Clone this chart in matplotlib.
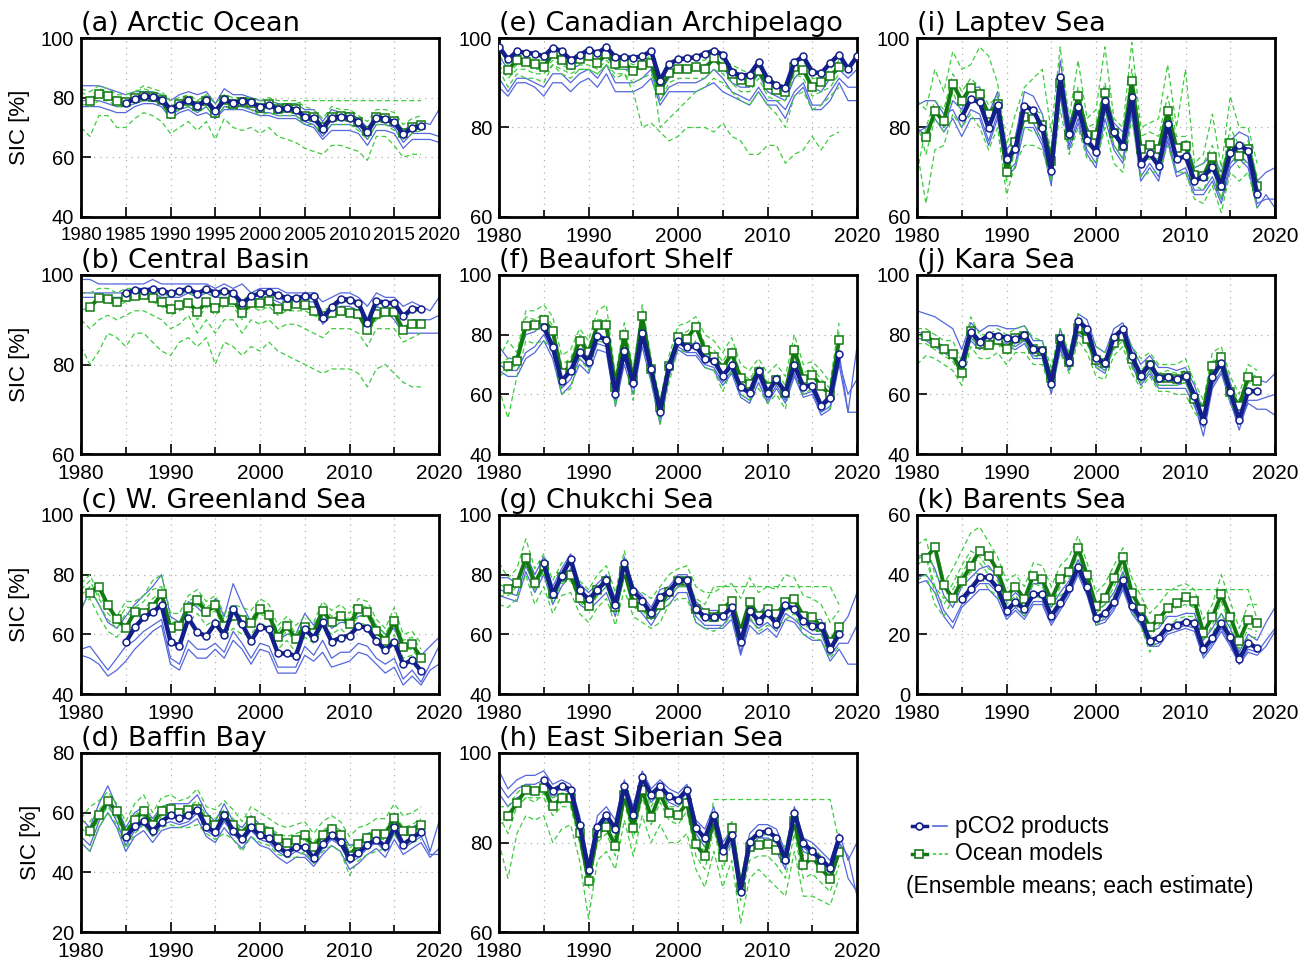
import numpy as np
import matplotlib
matplotlib.use('Agg')
import matplotlib.pyplot as plt

years = np.arange(1980, 2021)

# ---------------- (a) Arctic Ocean ----------------
a_blue_mean = [78.1, 79.7, 80.4, 80.2, 79.3, 76.2, 77.7, 79.1, 77.1, 79.1,
               75.4, 79.4, 78.2, 78.8, 78.5, 76.8, 77.7, 76.1, 76.4, 76.0,
               73.5, 73.2, 69.6, 73.3, 73.5, 73.3, 71.7, 68.4, 73.3, 73.0,
               71.7, 67.8, 69.8, 70.4]
a_green_mean = [78.8, 81.2, 80.4, 78.9, 78.5, 79.9, 80.6, 80.3, 79.2,
                74.5, 77.8, 79.0, 77.3, 79.0, 75.0, 79.2, 78.0, 78.6, 78.3,
                76.6, 77.9, 76.3, 76.6, 76.2, 73.8, 73.5, 70.2, 73.6, 73.8,
                73.5, 72.0, 68.8, 73.6, 73.3, 72.2, 68.2, 70.2, 70.8]
a_blue_members = [
    [84, 84, 84, 83, 82, 81, 82, 82, 82, 81, 79, 81, 82, 81, 82, 78, 83, 81, 81, 80,
     79, 79, 78, 78, 78, 76, 76, 72, 76, 75, 75, 73, 70, 74, 74, 73, 69, 71, 72, 71, 76],
    [77, 77, 77, 76, 75, 75, 77, 78, 78, 77, 73, 75, 76, 74, 75, 73, 76, 76, 76, 75,
     74, 74, 73, 73, 73, 71, 70, 66, 69, 69, 69, 68, 64, 69, 69, 68, 63, 66, 66, 66, 65],
    [79, 79, 79, 78, 77, 77, 78, 79, 79, 78, 74, 76, 77, 75, 77, 73, 77, 77, 77, 76,
     75, 75, 74, 74, 74, 72, 71, 67, 71, 71, 71, 70, 66, 71, 71, 70, 65, 68, 68, 68, 67]]
a_green_members = [
    [70, 67, 74, 74, 70, 70, 73, 75, 74, 72, 68, 70, 72, 69, 72, 66, 73, 70, 69, 70,
     68, 70, 67, 66, 65, 63, 62, 61, 64, 64, 63, 62, 59, 67, 67, 64, 60, 61, 61],
    [82, 80, 83, 82, 80, 80, 82, 83, 82, 81, 77, 79, 80, 78, 80, 76, 80, 79, 79, 79,
     78, 79, 78, 78, 78, 79, 79, 79, 79, 79, 79, 79, 79, 79, 79, 79, 79, 79, 79],
    [83, 82, 84, 83, 81, 81, 82, 84, 83, 82, 79, 80, 81, 79, 81, 78, 81, 80, 80, 80,
     79, 80, 79, 79, 79, 77, 76, 73, 77, 76, 76, 74, 72, 76, 76, 75, 71, 73, 74],
    [78, 77, 79, 79, 77, 77, 78, 79, 79, 78, 73, 76, 77, 75, 77, 73, 77, 76, 77, 76,
     74, 75, 74, 74, 74, 71, 71, 68, 71, 71, 71, 69, 66, 71, 71, 69, 66, 68, 69]]

# ---------------- (b) Central Basin ----------------
b_blue_mean = [96.0, 96.6, 96.5, 96.8, 96.5, 95.9, 96.4, 96.9, 95.8, 96.9,
               96.0, 96.4, 95.9, 93.7, 95.2, 95.9, 96.2, 95.5, 94.8, 94.8,
               95.2, 95.2, 90.3, 92.8, 94.6, 94.5, 93.7, 89.2, 94.2, 93.8,
               93.7, 90.8, 92.5, 92.3]
b_green_mean = [92.9, 94.8, 94.6, 94.0, 95.0, 95.3, 95.5, 94.8, 93.9,
                92.3, 93.4, 93.8, 91.8, 93.9, 92.6, 93.9, 94.4, 91.4, 93.8,
                93.7, 94.3, 92.4, 93.1, 93.5, 93.4, 92.0, 90.8, 91.4, 92.0,
                91.6, 91.3, 87.6, 91.3, 91.7, 91.7, 87.7, 89.1, 89.1]
b_blue_members = [
    [99, 99, 98, 98, 98, 98, 98, 98, 99, 98, 98, 98, 98, 98, 98, 97, 98, 97, 98, 96,
     97, 97, 97, 96, 96, 96, 96, 94, 95, 96, 96, 95, 93, 96, 95, 95, 93, 94, 93, 92, 95],
    [95, 95, 95, 95, 95, 95, 96, 96, 96, 95, 95, 95, 96, 95, 96, 95, 95, 95, 92, 94,
     95, 95, 94, 93, 93, 94, 94, 89, 91, 93, 93, 92, 88, 93, 92, 92, 88, 90, 90, 90, 91],
    [96, 96, 96, 96, 96, 96, 97, 97, 97, 96, 96, 96, 97, 96, 97, 96, 96, 96, 93, 95,
     96, 96, 95, 94, 94, 95, 95, 90, 92, 94, 94, 93, 88, 93, 92, 90, 87, 87, 87, 87, 87]]
b_green_members = [
    [84, 80, 83, 87, 86, 84, 87, 87, 85, 83, 82, 85, 86, 84, 86, 80, 85, 84, 82, 84,
     83, 85, 83, 82, 81, 80, 79, 78, 79, 79, 79, 78, 75, 79, 80, 78, 76, 75, 75],
    [92, 93, 95, 94, 93, 94, 95, 95, 94, 93, 91, 92, 93, 90, 93, 91, 93, 93, 90, 93,
     92, 93, 91, 92, 92, 92, 91, 90, 91, 91, 91, 91, 87, 90, 91, 91, 87, 89, 89],
    [96, 96, 97, 97, 96, 97, 97, 97, 96, 96, 95, 96, 96, 95, 96, 95, 96, 96, 94, 96,
     96, 96, 95, 95, 95, 95, 94, 92, 93, 94, 94, 93, 89, 93, 94, 94, 90, 92, 92],
    [90, 88, 90, 91, 90, 91, 92, 92, 91, 90, 88, 89, 91, 87, 90, 87, 90, 90, 87, 90,
     89, 90, 88, 89, 89, 88, 87, 86, 88, 88, 88, 87, 84, 88, 88, 88, 85, 86, 87]]

# ---------------- (c) W. Greenland Sea ----------------
c_blue_mean = [57.3, 62.3, 65.7, 67.4, 69.8, 57.5, 56.2, 65.4, 60.7, 59.4,
               63.7, 59.7, 68.5, 63.4, 57.8, 62.6, 61.7, 53.6, 53.6, 52.8,
               61.7, 58.9, 64.0, 57.5, 58.9, 59.6, 62.8, 62.2, 57.8, 54.7,
               57.5, 49.9, 51.4, 47.7]
c_green_mean = [74.0, 76.0, 69.8, 65.0, 62.2, 67.4, 67.0, 69.3, 73.6,
                62.0, 62.8, 68.9, 71.5, 67.4, 69.8, 62.9, 66.1, 64.7, 63.8,
                68.4, 66.5, 59.2, 62.9, 58.4, 62.6, 60.6, 67.9, 64.2, 66.3,
                63.4, 68.4, 67.4, 61.1, 57.9, 64.6, 55.6, 56.6, 52.2]
c_blue_members = [
    [68, 75, 70, 64, 62, 66, 70, 73, 76, 80, 66, 64, 71, 69, 66, 72, 66, 77, 70, 64,
     68, 67, 58, 60, 60, 67, 63, 68, 62, 64, 64, 66, 67, 63, 60, 62, 55, 57, 53, 56, 59],
    [55, 56, 52, 48, 52, 56, 58, 61, 63, 65, 52, 50, 58, 55, 55, 57, 54, 61, 57, 52,
     57, 56, 49, 49, 49, 56, 53, 58, 52, 54, 54, 57, 56, 52, 50, 52, 45, 48, 44, 50, 56],
    [53, 52, 50, 46, 48, 51, 55, 58, 61, 63, 50, 48, 55, 52, 52, 55, 52, 58, 55, 50,
     55, 54, 47, 47, 47, 53, 51, 54, 49, 50, 51, 54, 53, 50, 47, 49, 43, 46, 43, 48, 50]]
c_green_members = [
    [77, 80, 73, 69, 66, 71, 71, 73, 78, 80, 67, 67, 73, 75, 71, 73, 67, 70, 69, 68,
     72, 70, 63, 66, 63, 66, 64, 71, 68, 70, 67, 72, 71, 65, 62, 69, 60, 61, 57],
    [70, 72, 66, 61, 59, 63, 63, 65, 69, 70, 58, 58, 64, 67, 63, 65, 59, 62, 60, 60,
     64, 62, 55, 58, 54, 59, 57, 63, 60, 62, 59, 64, 63, 57, 54, 60, 52, 53, 48],
    [73, 76, 70, 65, 62, 67, 66, 68, 72, 74, 61, 62, 67, 70, 66, 68, 62, 65, 63, 62,
     67, 65, 58, 61, 57, 61, 59, 66, 63, 65, 62, 66, 66, 60, 57, 63, 55, 55, 51],
    [75, 78, 72, 67, 64, 69, 69, 71, 75, 76, 64, 64, 71, 73, 69, 71, 65, 68, 66, 65,
     70, 68, 61, 65, 60, 64, 62, 69, 66, 68, 65, 70, 69, 63, 60, 66, 58, 59, 55]]

# ---------------- (d) Baffin Bay ----------------
d_blue_mean = [51.7, 55.4, 57.1, 53.7, 56.9, 59.3, 58.2, 59.1, 61.0, 55.2,
               53.4, 59.1, 54.0, 51.2, 55.1, 52.4, 51.5, 48.5, 46.5, 48.5,
               48.4, 44.8, 49.5, 52.4, 50.2, 44.8, 46.5, 49.3, 51.0, 48.7,
               55.1, 49.3, 51.5, 53.5]
d_green_mean = [54.0, 59.1, 63.8, 60.4, 52.8, 57.7, 60.4, 56.0, 60.7,
                61.3, 59.9, 61.0, 61.3, 57.7, 56.0, 58.8, 56.0, 52.8, 57.1,
                54.9, 53.5, 51.3, 49.8, 50.8, 52.4, 48.4, 52.6, 54.5, 52.4,
                45.4, 49.5, 51.5, 52.8, 52.8, 58.2, 53.7, 54.0, 56.0]
d_blue_members = [
    [58, 55, 63, 69, 62, 55, 60, 62, 58, 62, 63, 63, 63, 66, 60, 57, 63, 57, 55, 59,
     56, 55, 52, 50, 52, 52, 48, 53, 56, 54, 49, 50, 53, 54, 52, 58, 53, 55, 57, 47, 57],
    [50, 47, 55, 60, 55, 47, 52, 54, 50, 54, 55, 55, 56, 58, 52, 50, 55, 51, 48, 52,
     49, 48, 45, 43, 45, 45, 42, 46, 49, 47, 41, 43, 46, 48, 45, 51, 46, 48, 50, 45, 48],
    [52, 49, 57, 63, 57, 49, 54, 56, 52, 56, 57, 56, 57, 60, 54, 52, 57, 53, 50, 54,
     51, 50, 47, 45, 47, 46, 43, 48, 51, 49, 43, 45, 48, 50, 47, 53, 48, 50, 52, 46, 46]]
d_green_members = [
    [58, 62, 64, 67, 63, 57, 63, 66, 60, 65, 66, 64, 65, 68, 62, 61, 64, 61, 57, 62,
     60, 58, 56, 55, 56, 57, 53, 57, 59, 57, 52, 55, 56, 58, 58, 63, 59, 60, 62],
    [50, 47, 55, 60, 56, 48, 53, 56, 52, 55, 56, 55, 55, 56, 53, 51, 53, 51, 47, 52,
     50, 49, 46, 45, 45, 47, 43, 47, 49, 47, 39, 44, 46, 47, 48, 53, 49, 50, 51],
    [55, 52, 58, 62, 58, 51, 56, 59, 54, 59, 60, 58, 59, 60, 56, 55, 57, 55, 51, 55,
     53, 52, 50, 48, 49, 51, 47, 51, 53, 51, 44, 48, 50, 51, 51, 56, 52, 53, 55],
    [57, 57, 61, 64, 61, 54, 59, 62, 57, 62, 63, 61, 62, 64, 59, 58, 61, 58, 54, 58,
     56, 55, 53, 52, 53, 54, 50, 54, 56, 54, 48, 51, 53, 54, 54, 60, 55, 56, 58]]

# ---------------- (e) Canadian Archipelago ----------------
e_blue_mean = [98.1, 95.2, 97.0, 96.7, 96.5, 95.9, 97.8, 97.1, 95.1, 96.1,
               97.4, 96.6, 98.0, 95.7, 95.7, 95.6, 95.9, 97.1, 90.5, 94.2,
               95.2, 95.5, 95.7, 96.5, 97.2, 96.3, 92.5, 91.6, 91.8, 94.6,
               90.9, 89.4, 88.9, 94.6, 95.9, 92.4, 92.1, 94.4, 96.3, 93.1, 95.9]
e_green_mean = [92.9, 95.0, 94.6, 94.1, 93.5, 96.5, 95.1, 93.9, 95.4,
                95.9, 94.5, 96.5, 94.2, 94.4, 92.7, 93.9, 94.4, 88.3, 92.1,
                93.0, 93.1, 93.5, 93.1, 95.5, 93.5, 92.0, 90.7, 90.1, 92.7,
                89.4, 88.3, 87.9, 93.5, 92.9, 89.0, 90.1, 91.4, 93.6]
e_blue_members = [
    [89, 87, 90, 90, 89, 87, 90, 90, 88, 90, 91, 89, 92, 88, 88, 88, 89, 91, 85, 88,
     88, 88, 88, 89, 90, 88, 87, 86, 85, 88, 85, 85, 82, 87, 89, 84, 84, 86, 90, 86, 86],
    [91, 88, 91, 91, 90, 89, 92, 92, 90, 92, 93, 91, 94, 90, 90, 90, 91, 93, 86, 89,
     90, 90, 90, 91, 93, 91, 88, 87, 86, 89, 86, 86, 84, 88, 90, 85, 85, 88, 91, 89, 89],
    [96, 93, 95, 95, 94, 93, 96, 95, 93, 94, 96, 94, 96, 93, 93, 93, 94, 95, 88, 91,
     93, 93, 93, 94, 95, 94, 90, 89, 89, 92, 88, 87, 86, 91, 93, 89, 88, 91, 93, 91, 93]]
e_green_members = [
    [94, 91, 93, 93, 92, 92, 94, 93, 92, 93, 93, 92, 94, 92, 92, 88, 80, 81, 79, 77,
     78, 80, 80, 80, 79, 81, 78, 77, 74, 74, 76, 76, 72, 74, 75, 78, 75, 78, 79],
    [95, 92, 94, 94, 93, 93, 95, 94, 93, 94, 94, 93, 95, 93, 93, 92, 93, 94, 80, 82,
     84, 86, 88, 89, 91, 90, 88, 86, 85, 88, 85, 83, 80, 87, 88, 84, 85, 87, 89],
    [96, 94, 96, 96, 95, 95, 97, 96, 95, 96, 97, 96, 97, 95, 95, 94, 95, 96, 90, 94,
     95, 95, 95, 95, 97, 95, 94, 93, 92, 94, 91, 90, 89, 95, 95, 91, 91, 93, 95],
    [93, 89, 92, 91, 91, 90, 94, 92, 91, 93, 93, 92, 94, 91, 92, 90, 91, 92, 86, 90,
     91, 91, 91, 91, 93, 92, 90, 88, 88, 91, 87, 86, 86, 92, 91, 87, 88, 89, 92]]

# ---------------- (f) Beaufort Shelf ----------------
f_blue_mean = [82.5, 76.0, 64.5, 67.9, 74.3, 71.0, 79.6, 78.2, 60.0, 74.5,
               63.7, 80.7, 68.4, 54.0, 69.5, 77.9, 75.8, 76.2, 71.8, 71.3,
               66.3, 69.8, 62.3, 60.6, 67.8, 60.6, 65.0, 60.6, 69.8, 62.6,
               62.9, 56.1, 58.9, 73.5]
f_green_mean = [69.6, 71.3, 82.9, 83.2, 84.9, 81.2, 67.0, 69.5, 78.0,
                74.3, 83.1, 83.1, 62.6, 79.8, 64.8, 86.3, 68.4, 55.6, 69.5,
                79.1, 78.7, 82.7, 74.9, 72.6, 68.9, 73.7, 65.4, 63.5, 67.6,
                62.6, 64.8, 60.6, 74.9, 65.1, 66.5, 62.9, 59.8, 78.2]
f_blue_members = [
    [76, 72, 72, 80, 81, 84, 77, 65, 68, 75, 72, 80, 79, 61, 75, 64, 81, 69, 55, 70,
     79, 77, 77, 73, 72, 67, 71, 63, 61, 69, 61, 66, 61, 71, 63, 64, 57, 60, 74, 54, 76],
    [70, 68, 68, 74, 76, 80, 74, 62, 65, 72, 69, 77, 76, 58, 72, 62, 78, 66, 52, 67,
     76, 74, 74, 70, 69, 64, 68, 60, 58, 66, 58, 63, 58, 67, 60, 61, 54, 56, 71, 60, 65],
    [68, 66, 66, 72, 74, 78, 72, 60, 63, 70, 67, 75, 74, 56, 70, 60, 76, 64, 50, 66,
     75, 73, 73, 69, 68, 63, 67, 59, 57, 64, 57, 62, 57, 66, 59, 60, 53, 55, 70, 54, 54]]
f_green_members = [
    [72, 78, 74, 88, 88, 90, 86, 73, 75, 82, 78, 88, 90, 66, 84, 68, 90, 72, 58, 73,
     83, 84, 86, 80, 78, 74, 79, 70, 68, 72, 67, 70, 66, 80, 70, 71, 68, 64, 84],
    [62, 52, 66, 78, 77, 78, 75, 60, 62, 72, 68, 78, 77, 56, 75, 58, 82, 64, 50, 64,
     75, 74, 78, 69, 68, 61, 68, 60, 58, 62, 57, 60, 55, 70, 60, 62, 57, 55, 72],
    [66, 68, 70, 82, 82, 84, 80, 66, 68, 77, 73, 82, 82, 61, 79, 63, 85, 67, 54, 68,
     78, 78, 82, 74, 72, 68, 73, 64, 62, 67, 62, 64, 60, 74, 64, 66, 62, 59, 78],
    [70, 72, 73, 86, 85, 87, 83, 70, 72, 80, 75, 85, 85, 64, 81, 66, 88, 70, 56, 71,
     80, 81, 84, 77, 75, 71, 76, 67, 65, 70, 64, 67, 63, 77, 67, 69, 65, 62, 81]]

# ---------------- (g) Chukchi Sea ----------------
g_blue_mean = [83.8, 73.5, 79.7, 85.1, 74.9, 71.7, 74.9, 78.2, 69.8, 84.0,
               74.6, 71.3, 67.0, 72.6, 74.3, 78.2, 78.2, 68.4, 65.9, 65.9,
               66.1, 69.1, 57.5, 67.9, 64.6, 67.3, 63.4, 69.8, 68.5, 64.5,
               62.8, 62.8, 55.0, 60.0]
g_green_mean = [75.2, 77.1, 85.5, 77.3, 82.9, 73.5, 79.1, 79.8, 72.3,
                69.5, 74.9, 78.0, 69.1, 81.3, 70.4, 69.3, 66.8, 69.8, 74.3,
                78.0, 78.0, 68.5, 67.3, 65.9, 68.5, 71.3, 60.9, 71.0, 66.1,
                68.5, 66.7, 70.7, 71.7, 66.1, 65.7, 62.6, 57.3, 62.6]
g_blue_members = [
    [79, 79, 77, 87, 80, 86, 76, 82, 87, 77, 74, 77, 80, 72, 86, 76, 73, 69, 75, 76,
     80, 80, 71, 68, 68, 68, 72, 60, 70, 67, 70, 66, 72, 71, 67, 65, 65, 58, 62, 66, 74],
    [75, 74, 73, 83, 76, 82, 72, 78, 82, 72, 70, 73, 76, 68, 82, 72, 69, 65, 70, 72,
     76, 76, 66, 63, 63, 63, 67, 54, 65, 62, 64, 61, 67, 65, 62, 60, 60, 53, 57, 57, 63],
    [73, 72, 71, 81, 74, 80, 70, 76, 80, 70, 68, 71, 74, 66, 80, 70, 67, 63, 68, 70,
     74, 74, 64, 62, 62, 62, 65, 53, 63, 60, 62, 59, 65, 64, 60, 58, 58, 51, 55, 50, 50]]
g_green_members = [
    [84, 79, 82, 92, 82, 87, 78, 84, 84, 78, 75, 80, 83, 74, 88, 75, 74, 72, 76, 80,
     82, 83, 76, 74, 74, 76, 77, 72, 79, 74, 76, 75, 80, 79, 73, 72, 70, 64, 68],
    [77, 75, 78, 86, 77, 83, 73, 79, 80, 73, 70, 75, 78, 69, 81, 71, 70, 67, 70, 75,
     78, 78, 72, 70, 76, 76, 76, 76, 76, 76, 76, 76, 76, 76, 76, 76, 76, 76, 70],
    [70, 69, 72, 80, 70, 76, 67, 73, 74, 67, 64, 69, 72, 63, 75, 66, 64, 62, 64, 70,
     72, 72, 64, 62, 61, 63, 66, 56, 66, 61, 63, 62, 65, 67, 60, 59, 58, 52, 56],
    [73, 73, 76, 84, 75, 81, 71, 77, 78, 71, 68, 73, 76, 67, 80, 69, 68, 65, 68, 73,
     76, 76, 67, 65, 64, 66, 69, 59, 69, 64, 66, 64, 68, 69, 63, 62, 60, 55, 59]]

# ---------------- (h) East Siberian Sea ----------------
h_blue_mean = [94.0, 91.6, 92.7, 91.8, 84.0, 73.9, 83.4, 86.1, 83.0, 92.6,
               86.1, 94.6, 90.7, 92.6, 90.3, 89.6, 91.8, 83.2, 81.0, 86.2,
               78.1, 81.7, 69.0, 80.2, 82.1, 82.5, 81.1, 76.2, 86.7, 79.9,
               78.0, 76.2, 74.3, 81.0]
h_green_mean = [85.9, 88.8, 91.8, 91.4, 92.2, 88.1, 90.0, 90.0, 82.1,
                71.5, 82.1, 83.4, 79.3, 90.7, 83.2, 91.8, 85.7, 90.8, 86.6,
                86.2, 88.8, 79.6, 76.9, 85.1, 76.7, 83.2, 70.0, 79.0, 79.5,
                79.7, 78.4, 76.5, 84.9, 74.9, 76.7, 74.2, 71.9, 77.9]
h_blue_members = [
    [96, 92, 94, 95, 95, 96, 93, 94, 93, 86, 75, 86, 88, 85, 94, 88, 96, 92, 94, 92,
     91, 93, 85, 83, 88, 80, 83, 71, 82, 84, 84, 83, 78, 88, 81, 80, 78, 76, 82, 76, 80],
    [91, 88, 90, 91, 91, 92, 90, 91, 90, 83, 72, 82, 85, 82, 91, 85, 93, 89, 91, 89,
     88, 90, 82, 79, 85, 77, 80, 68, 79, 81, 81, 80, 75, 85, 78, 77, 75, 73, 80, 72, 69],
    [93, 90, 92, 93, 93, 94, 91, 92, 91, 84, 73, 84, 86, 83, 92, 86, 94, 90, 92, 90,
     89, 91, 83, 80, 86, 78, 81, 69, 80, 82, 80, 78, 74, 86, 79, 77, 76, 74, 80, 77, 68]]
h_green_members = [
    [86, 82, 88, 90, 89, 91, 87, 89, 89, 82, 71, 82, 83, 79, 91, 83, 92, 86, 91, 87,
     86, 89, 80, 78, 89.6, 89.6, 89.6, 89.6, 89.6, 89.6, 89.6, 89.6, 89.6, 89.6, 89.6,
     89.6, 89.6, 89.6, 80],
    [80, 72, 82, 86, 85, 86, 80, 83, 84, 76, 63, 76, 78, 74, 85, 77, 86, 80, 84, 80,
     80, 82, 74, 70, 78, 70, 76, 62, 72, 74, 72, 70, 68, 78, 68, 68, 67, 66, 72],
    [84, 85, 88, 90, 90, 90, 86, 88, 88, 80, 70, 80, 82, 77, 89, 81, 90, 84, 89, 85,
     84, 87, 77, 74, 83, 74, 80, 67, 76, 77, 77, 75, 72, 82, 72, 73, 71, 69, 75],
    [88, 88, 91, 93, 92, 93, 90, 91, 91, 84, 74, 84, 85, 81, 92, 85, 93, 88, 92, 88,
     88, 90, 81, 79, 87, 78, 85, 72, 81, 81, 82, 81, 79, 87, 77, 79, 77, 74, 80]]

# ---------------- (i) Laptev Sea ----------------
i_blue_mean = [82.3, 86.4, 85.6, 79.9, 85.1, 72.9, 75.3, 84.9, 83.8, 79.9,
               70.3, 91.3, 78.5, 84.5, 77.2, 74.6, 86.0, 78.9, 75.9, 86.9,
               71.8, 74.2, 71.4, 80.8, 72.9, 73.6, 68.1, 69.0, 71.2, 67.0,
               74.2, 76.1, 74.8, 65.2]
i_green_mean = [77.8, 83.6, 81.4, 89.8, 86.0, 88.9, 87.4, 83.0, 85.3,
                70.1, 76.7, 82.3, 81.8, 80.5, 72.6, 90.0, 78.4, 87.0, 78.4,
                78.4, 87.7, 78.7, 75.9, 90.4, 75.3, 76.1, 75.2, 83.6, 75.4,
                75.9, 69.4, 69.2, 73.5, 67.0, 76.6, 73.7, 75.2, 67.0]
i_blue_members = [
    [80, 78, 84, 80, 86, 84, 89, 89, 83, 88, 75, 78, 88, 87, 83, 73, 95, 81, 87, 80,
     77, 89, 81, 79, 89, 75, 77, 74, 83, 76, 77, 71, 72, 74, 70, 77, 79, 78, 68, 70, 71],
    [85, 86, 86, 83, 84, 80, 84, 83, 77, 83, 70, 72, 82, 81, 77, 68, 89, 76, 82, 75,
     72, 84, 76, 73, 84, 69, 72, 69, 78, 70, 71, 66, 66, 69, 64, 72, 74, 72, 63, 64, 64],
    [79, 80, 82, 79, 82, 78, 82, 82, 76, 82, 69, 71, 80, 80, 76, 67, 87, 75, 81, 74,
     71, 82, 75, 72, 83, 68, 71, 68, 77, 69, 70, 65, 65, 68, 63, 71, 73, 71, 62, 65, 62]]
i_green_members = [
    [86, 84, 93, 88, 97, 93, 94, 98, 96, 90, 76, 83, 89, 91, 93, 79, 98, 82, 95, 82,
     84, 98, 82, 80, 99, 80, 81, 82, 94, 80, 93, 72, 74, 83, 71, 87, 80, 80, 72],
    [75, 63, 75, 76, 83, 80, 83, 80, 75, 80, 65, 72, 76, 76, 75, 68, 84, 74, 80, 73,
     72, 80, 72, 70, 82, 69, 70, 70, 76, 70, 70, 64, 63, 67, 61, 70, 68, 70, 62],
    [81, 74, 82, 79, 88, 83, 86, 86, 80, 85, 68, 75, 80, 79, 78, 71, 88, 77, 84, 76,
     75, 84, 76, 73, 86, 72, 73, 73, 80, 73, 74, 67, 66, 71, 64, 74, 71, 73, 65],
    [70, 80, 86, 84, 92, 88, 91, 89, 85, 87, 72, 78, 84, 84, 83, 75, 92, 80, 89, 80,
     81, 90, 80, 78, 93, 78, 79, 78, 87, 78, 78, 71, 72, 76, 69, 80, 76, 77, 69]]

# ---------------- (j) Kara Sea ----------------
j_blue_mean = [70.4, 81.0, 77.7, 79.9, 79.7, 79.0, 78.4, 79.9, 75.1, 74.9,
               63.4, 78.8, 70.7, 84.7, 81.9, 72.1, 70.4, 79.1, 81.9, 72.8,
               66.3, 70.1, 65.6, 65.7, 65.0, 66.3, 59.6, 51.1, 65.9, 70.6,
               60.7, 51.4, 61.1, 61.1]
j_green_mean = [79.6, 77.1, 75.2, 73.4, 67.0, 81.2, 76.9, 76.5, 78.2,
                75.2, 78.8, 79.6, 75.1, 74.5, 65.4, 78.5, 71.0, 82.3, 78.5,
                71.5, 70.6, 77.1, 79.6, 71.7, 66.5, 69.8, 65.4, 65.6, 65.0,
                66.1, 58.4, 54.7, 69.5, 72.6, 60.7, 56.1, 65.7, 64.6]
j_blue_members = [
    [88, 87, 86, 84, 82, 75, 84, 81, 83, 83, 82, 82, 83, 78, 78, 66, 82, 73, 87, 85,
     76, 74, 82, 84, 76, 70, 73, 69, 69, 68, 69, 63, 54, 69, 74, 64, 55, 65, 65, 64, 67],
    [81, 80, 78, 76, 74, 68, 79, 76, 78, 78, 77, 76, 78, 73, 73, 61, 76, 69, 82, 80,
     70, 68, 77, 80, 70, 64, 68, 63, 63, 63, 64, 57, 46, 62, 67, 58, 48, 58, 58, 59, 60],
    [79, 78, 76, 74, 72, 69, 78, 75, 77, 77, 76, 75, 77, 72, 72, 60, 75, 68, 80, 78,
     69, 67, 76, 79, 70, 63, 67, 62, 62, 62, 62, 56, 49, 63, 68, 57, 50, 57, 55, 55, 53]]
j_green_members = [
    [82, 82, 80, 78, 78, 71, 86, 80, 80, 82, 80, 82, 83, 79, 78, 69, 82, 74, 87, 82,
     76, 74, 80, 82, 76, 72, 74, 70, 70, 70, 72, 64, 58, 74, 76, 66, 60, 70, 68],
    [70, 73, 72, 70, 68, 63, 76, 72, 72, 74, 70, 74, 74, 70, 70, 61, 74, 67, 78, 74,
     66, 65, 73, 76, 67, 62, 66, 61, 61, 60, 60, 54, 50, 65, 69, 57, 52, 61, 60],
    [77, 77, 75, 73, 71, 66, 80, 75, 75, 77, 73, 77, 78, 73, 72, 64, 77, 70, 81, 77,
     69, 68, 75, 78, 69, 64, 68, 63, 63, 63, 64, 57, 53, 68, 71, 59, 55, 64, 63],
    [80, 79, 77, 75, 73, 68, 83, 78, 78, 80, 76, 80, 81, 76, 75, 67, 80, 72, 84, 80,
     73, 72, 78, 80, 73, 68, 71, 67, 68, 67, 68, 61, 56, 71, 74, 63, 58, 67, 66]]

# ---------------- (k) Barents Sea ----------------
k_blue_mean = [31.7, 35.2, 39.1, 39.1, 35.4, 27.9, 30.9, 28.4, 33.4, 33.4,
               26.1, 30.6, 35.6, 42.7, 35.7, 25.4, 27.0, 30.9, 38.2, 29.6,
               25.4, 17.9, 18.9, 22.6, 23.1, 24.2, 23.9, 15.0, 18.7, 23.9,
               19.0, 11.6, 17.2, 15.3]
k_green_mean = [45.5, 49.2, 36.4, 32.1, 37.9, 42.9, 48.0, 46.4, 41.3,
                32.8, 36.0, 31.8, 39.7, 38.4, 31.5, 38.4, 41.0, 49.1, 39.8,
                29.5, 32.3, 38.8, 45.8, 34.0, 28.5, 22.3, 25.1, 28.7, 30.6,
                32.4, 31.2, 20.6, 25.7, 33.4, 25.9, 17.9, 24.8, 23.7]
k_blue_members = [
    [46, 47, 42, 33, 29, 36, 39, 42, 43, 39, 31, 34, 31, 37, 37, 29, 34, 38, 45, 38,
     28, 30, 34, 41, 33, 28, 21, 22, 26, 26, 27, 27, 18, 22, 27, 22, 14, 20, 18, 24, 29],
    [39, 40, 36, 28, 24, 30, 34, 37, 37, 34, 26, 29, 26, 31, 31, 24, 29, 34, 41, 34,
     24, 25, 29, 36, 28, 24, 16, 17, 21, 22, 23, 22, 13, 17, 22, 17, 10, 15, 14, 18, 22],
    [37, 38, 34, 26, 22, 29, 32, 35, 35, 32, 25, 28, 25, 30, 30, 23, 28, 33, 40, 33,
     23, 24, 28, 35, 27, 23, 16, 16, 20, 21, 22, 21, 12, 16, 21, 16, 10, 14, 13, 16, 21]]
k_green_members = [
    [50, 52, 40, 37, 42, 48, 54, 56, 51, 46, 38, 40, 36, 44, 43, 36, 43, 46, 53, 44,
     34, 37, 43, 49, 39, 33, 27, 30, 34, 36, 37, 35, 25, 30, 40, 31, 22, 30, 30],
    [45, 47, 36, 32, 37, 43, 48, 46, 42, 40, 33, 36, 32, 40, 38, 32, 38, 41, 49, 40,
     30, 33, 38, 45, 34, 35, 35, 35, 35, 35, 35, 35, 35, 35, 35, 35, 35, 35, 25],
    [38, 40, 30, 26, 32, 36, 41, 40, 35, 33, 27, 30, 26, 33, 32, 26, 33, 35, 44, 34,
     23, 26, 33, 40, 28, 23, 14, 19, 22, 25, 26, 26, 14, 20, 27, 20, 13, 19, 19],
    [43, 46, 34, 30, 35, 40, 46, 44, 40, 38, 30, 33, 29, 37, 36, 29, 36, 39, 47, 37,
     27, 30, 36, 43, 31, 26, 19, 23, 27, 29, 30, 29, 18, 23, 31, 23, 15, 22, 21]]

# ---------------- panel definitions ----------------
panels = [
    # key, title, ylim, yticks, col, row, blue start, green start
    ("a", "(a) Arctic Ocean", (40, 100), [40, 60, 80, 100], 0, 0, 1985, 1981),
    ("b", "(b) Central Basin", (60, 100), [60, 80, 100], 0, 1, 1985, 1981),
    ("c", "(c) W. Greenland Sea", (40, 100), [40, 60, 80, 100], 0, 2, 1985, 1981),
    ("d", "(d) Baffin Bay", (20, 80), [20, 40, 60, 80], 0, 3, 1985, 1981),
    ("e", "(e) Canadian Archipelago", (60, 100), [60, 80, 100], 1, 0, 1980, 1981),
    ("f", "(f) Beaufort Shelf", (40, 100), [40, 60, 80, 100], 1, 1, 1985, 1981),
    ("g", "(g) Chukchi Sea", (40, 100), [40, 60, 80, 100], 1, 2, 1985, 1981),
    ("h", "(h) East Siberian Sea", (60, 100), [60, 80, 100], 1, 3, 1985, 1981),
    ("i", "(i) Laptev Sea", (60, 100), [60, 80, 100], 2, 0, 1985, 1981),
    ("j", "(j) Kara Sea", (40, 100), [40, 60, 80, 100], 2, 1, 1985, 1981),
    ("k", "(k) Barents Sea", (0, 60), [0, 20, 40, 60], 2, 2, 1985, 1981),
]
data = {
    "a": (a_blue_mean, a_green_mean, a_blue_members, a_green_members),
    "b": (b_blue_mean, b_green_mean, b_blue_members, b_green_members),
    "c": (c_blue_mean, c_green_mean, c_blue_members, c_green_members),
    "d": (d_blue_mean, d_green_mean, d_blue_members, d_green_members),
    "e": (e_blue_mean, e_green_mean, e_blue_members, e_green_members),
    "f": (f_blue_mean, f_green_mean, f_blue_members, f_green_members),
    "g": (g_blue_mean, g_green_mean, g_blue_members, g_green_members),
    "h": (h_blue_mean, h_green_mean, h_blue_members, h_green_members),
    "i": (i_blue_mean, i_green_mean, i_blue_members, i_green_members),
    "j": (j_blue_mean, j_green_mean, j_blue_members, j_green_members),
    "k": (k_blue_mean, k_green_mean, k_blue_members, k_green_members),
}


def series(start, vals):
    arr = np.full(len(years), np.nan)
    vals = np.asarray(vals, dtype=float)
    i0 = start - 1980
    n = min(len(vals), len(years) - i0)
    arr[i0:i0 + n] = vals[:n]
    return arr


NAVY = "#13208a"
BLUE_THIN = "#5467dc"
DKGREEN = "#137a13"
LTGREEN = "#3dcc3d"

W, H = 1306, 960
fig = plt.figure(figsize=(W / 100, H / 100), dpi=100)

col_left = [81, 499, 917]
row_top = [38, 275, 515, 753]
aw, ah = 358, 179

for key, title, ylim, yticks, col, row, bstart, gstart in panels:
    bm, gm, bmem, gmem = data[key]
    l = col_left[col]
    t = row_top[row]
    ax = fig.add_axes([l / W, (H - t - ah) / H, aw / W, ah / H])
    ax.set_xlim(1980, 2020)
    ax.set_ylim(*ylim)
    # grid
    for x in range(1985, 2020, 5):
        ax.axvline(x, color="#b0b0b0", lw=0.9, ls=(0, (1, 4)), zorder=0)
    for y in yticks[1:-1]:
        ax.axhline(y, color="#b0b0b0", lw=0.9, ls=(0, (1, 4)), zorder=0)
    # members
    for m in bmem:
        ax.plot(years, series(1980, m), color=BLUE_THIN, lw=0.9, zorder=2)
    for m in gmem:
        ax.plot(years, series(1980, m), color=LTGREEN, lw=0.9,
                ls=(0, (4, 2.5)), zorder=2)
    # ensemble means
    ax.plot(years, series(gstart, gm), color=DKGREEN, lw=2.8, marker="s",
            ms=5.5, mfc="white", mec=DKGREEN, mew=1.1, zorder=4)
    ax.plot(years, series(bstart, bm), color=NAVY, lw=3.2, marker="o",
            ms=5.0, mfc="white", mec=NAVY, mew=1.1, zorder=5)
    # axes styling
    for s in ax.spines.values():
        s.set_linewidth(2.0)
    ax.set_yticks(yticks)
    ax.set_yticklabels([str(v) for v in yticks], fontsize=14.5,
                       family="Liberation Sans")
    if key == "a":
        xt = list(range(1980, 2021, 5))
        ax.set_xticks(xt)
        ax.set_xticklabels([str(v) for v in xt], fontsize=13.5,
                           family="Liberation Sans")
    else:
        xt = list(range(1980, 2021, 10))
        ax.set_xticks(xt)
        ax.set_xticks(list(range(1985, 2020, 10)), minor=True)
        ax.set_xticklabels([str(v) for v in xt], fontsize=15,
                           family="Liberation Sans")
    ax.tick_params(axis="both", which="major", direction="in", length=7,
                   width=1.2)
    ax.tick_params(axis="x", which="major", pad=7)
    ax.tick_params(axis="y", which="major", pad=5)
    ax.tick_params(axis="x", which="minor", direction="in", length=5,
                   width=1.2)
    ax.text(0.0, 1.005, title, transform=ax.transAxes, ha="left",
            va="bottom", fontsize=19.5, family="DejaVu Sans")
    if col == 0:
        ax.set_ylabel("SIC [%]", fontsize=16, family="Liberation Sans",
                      labelpad=8)

# legend drawn in pixel coordinates
lg = fig.add_axes([0, 0, 1, 1])
lg.set_xlim(0, W)
lg.set_ylim(H, 0)
lg.axis("off")
lg.plot([912, 927], [826, 826], color=NAVY, lw=2.5)
lg.plot([919], [826], marker="o", ms=5, mfc="white", mec=NAVY, mew=1.2)
lg.plot([933, 947], [826, 826], color=BLUE_THIN, lw=1.2)
lg.text(955, 826, "pCO2 products", fontsize=16.5, family="Liberation Sans",
        va="center", ha="left")
lg.plot([912, 927], [854, 854], color=DKGREEN, lw=2.5)
lg.plot([919], [854], marker="s", ms=5.5, mfc="white", mec=DKGREEN, mew=1.2)
lg.plot([933, 948], [854, 854], color=LTGREEN, lw=1.2, ls=(0, (2, 1.5)))
lg.text(955, 854, "Ocean models", fontsize=16.5, family="Liberation Sans",
        va="center", ha="left")
lg.text(906, 886, "(Ensemble means; each estimate)", fontsize=16.5,
        family="Liberation Sans", va="center", ha="left")

fig.savefig("out.png", dpi=100)
